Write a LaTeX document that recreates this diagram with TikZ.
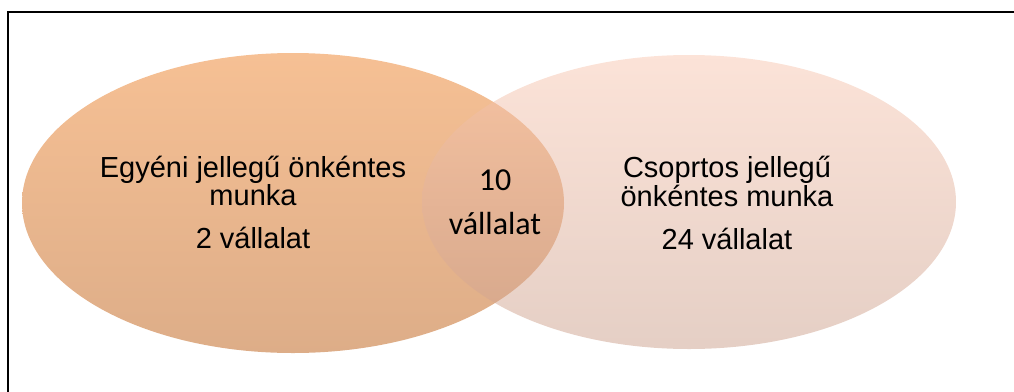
\documentclass[tikz,border=0pt]{standalone}
\usepackage{fontspec}
\setmainfont{Liberation Sans}
\newfontfamily\calibrifont{Carlito}
\usepackage{tikz}
\usetikzlibrary{shapes.geometric}
\definecolor{egyeniTop}{RGB}{246,192,148}
\definecolor{egyeniBot}{RGB}{221,173,136}
\definecolor{csoportTop}{RGB}{249,199,177}
\definecolor{csoportBot}{RGB}{203,159,139}

\begin{document}
\begin{tikzpicture}[x=1pt, y=-1pt,
      halmaz/.style={ellipse, inner sep=0pt, minimum width=542pt, minimum height=300pt},
      felirat/.style={anchor=base, inner sep=0pt, font=\fontsize{29}{29}\selectfont},
      kozep/.style={anchor=base, inner sep=0pt, font=\calibrifont\fontsize{32}{32}\selectfont}]
      \useasboundingbox (0,0) rectangle (1014,391);
      \draw[line width=2pt] (7.5,12) rectangle (1040,420);
      \node[halmaz, top color=egyeniTop, bottom color=egyeniBot] (egyeni) at (293,203) {};
      \node[halmaz, top color=csoportTop, bottom color=csoportBot, fill opacity=0.5, minimum width=534pt, minimum height=294pt] (csoport) at (689,202) {};
%       bal oldali halmaz
      \node (e1) at (253,177) [felirat] {Egyéni jellegű önkéntes};
      \node (e2) at (253,205) [felirat] {munka};
      \node (e3) at (253,248) [felirat] {2 vállalat};
%       jobb oldali halmaz
      \node (c1) at (727,177) [felirat] {Csoprtos jellegű};
      \node (c2) at (727,206) [felirat] {önkéntes munka};
      \node (c3) at (727,249) [felirat] {24 vállalat};
%       metszet
      \node (k1) at (495,190) [kozep] {10};
      \node (k2) at (495,234) [kozep] {vállalat};
  \end{tikzpicture}
\end{document}
